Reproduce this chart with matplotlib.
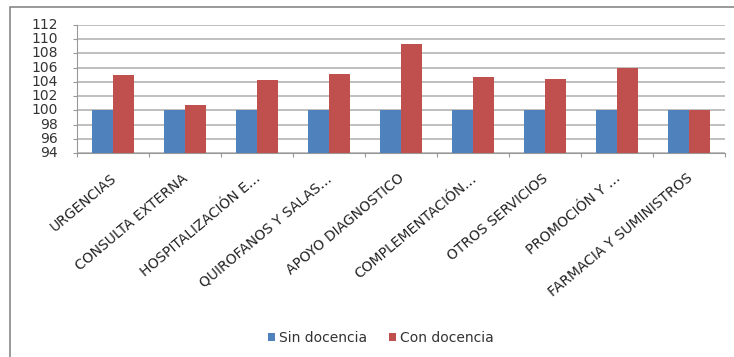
import matplotlib.pyplot as plt
import numpy as np
from matplotlib.patches import Rectangle

plt.rcParams['font.family'] = ['DejaVu Sans']

categorias = ['URGENCIAS', 'CONSULTA EXTERNA', 'HOSPITALIZACIÓN E…',
              'QUIROFANOS Y SALAS…', 'APOYO DIAGNOSTICO', 'COMPLEMENTACIÓN…',
              'OTROS SERVICIOS', 'PROMOCIÓN Y …', 'FARMACIA Y SUMINISTROS']
sin_docencia = [100, 100, 100, 100, 100, 100, 100, 100, 100]
con_docencia = [105.0, 100.7, 104.2, 105.1, 109.3, 104.7, 104.4, 105.9, 100.0]
y_ticks = list(range(94, 113, 2))

azul = '#4F81BD'
rojo = '#C0504D'

fig = plt.figure(figsize=(7.34, 3.57), dpi=100)
ax = fig.add_axes([77 / 734, 1 - 153 / 357, 648 / 734, 128 / 357])

x = np.arange(len(categorias))
w = 0.285
base = y_ticks[0]
ax.bar(x - w / 2, np.array(sin_docencia) - base, w, bottom=base, color=azul,
       label='Sin docencia', zorder=3)
ax.bar(x + w / 2, np.array(con_docencia) - base, w, bottom=base, color=rojo,
       label='Con docencia', zorder=3)

ax.set_ylim(94, 112)
ax.set_xlim(-0.5, len(categorias) - 0.5)
ax.set_yticks(y_ticks)
ax.set_yticklabels([])
ax.tick_params(axis='y', length=3, color='#999999')
ax.yaxis.grid(True, color='#B4B4B4', lw=1.2, zorder=0)
# etiquetas del eje y separadas del eje
for yv in y_ticks:
    ax.text(-0.029, yv, str(yv), transform=ax.get_yaxis_transform(),
            ha='right', va='center', fontsize=10, color='#333333')

# marcas entre categorías (estilo Excel)
ax.set_xticks(np.arange(-0.5, len(categorias), 1.0))
ax.set_xticklabels([])
ax.tick_params(axis='x', length=3, color='#999999')
for xi, lab in zip(x, categorias):
    ax.annotate(lab, xy=(xi, 0), xycoords=('data', 'axes fraction'),
                xytext=(1, -17), textcoords='offset points',
                rotation=40, ha='right', va='center', rotation_mode='anchor',
                fontsize=10, color='#222222')

for s in ['top', 'right']:
    ax.spines[s].set_visible(False)
for s in ['left', 'bottom']:
    ax.spines[s].set_color('#999999')

fig.legend(loc='center', bbox_to_anchor=(381 / 734, 1 - 338 / 357), ncol=2,
           frameon=False, fontsize=10, handlelength=0.5, handleheight=0.5,
           handletextpad=0.3, columnspacing=1.6, labelcolor='#333333')

# marco exterior del gráfico
fig.patches.append(Rectangle((10 / 734, -0.05), 1.1, 1 - 7 / 357 + 0.05,
                             transform=fig.transFigure, fill=False,
                             edgecolor='#888888', lw=1.2))

fig.savefig('out.png', dpi=100)
